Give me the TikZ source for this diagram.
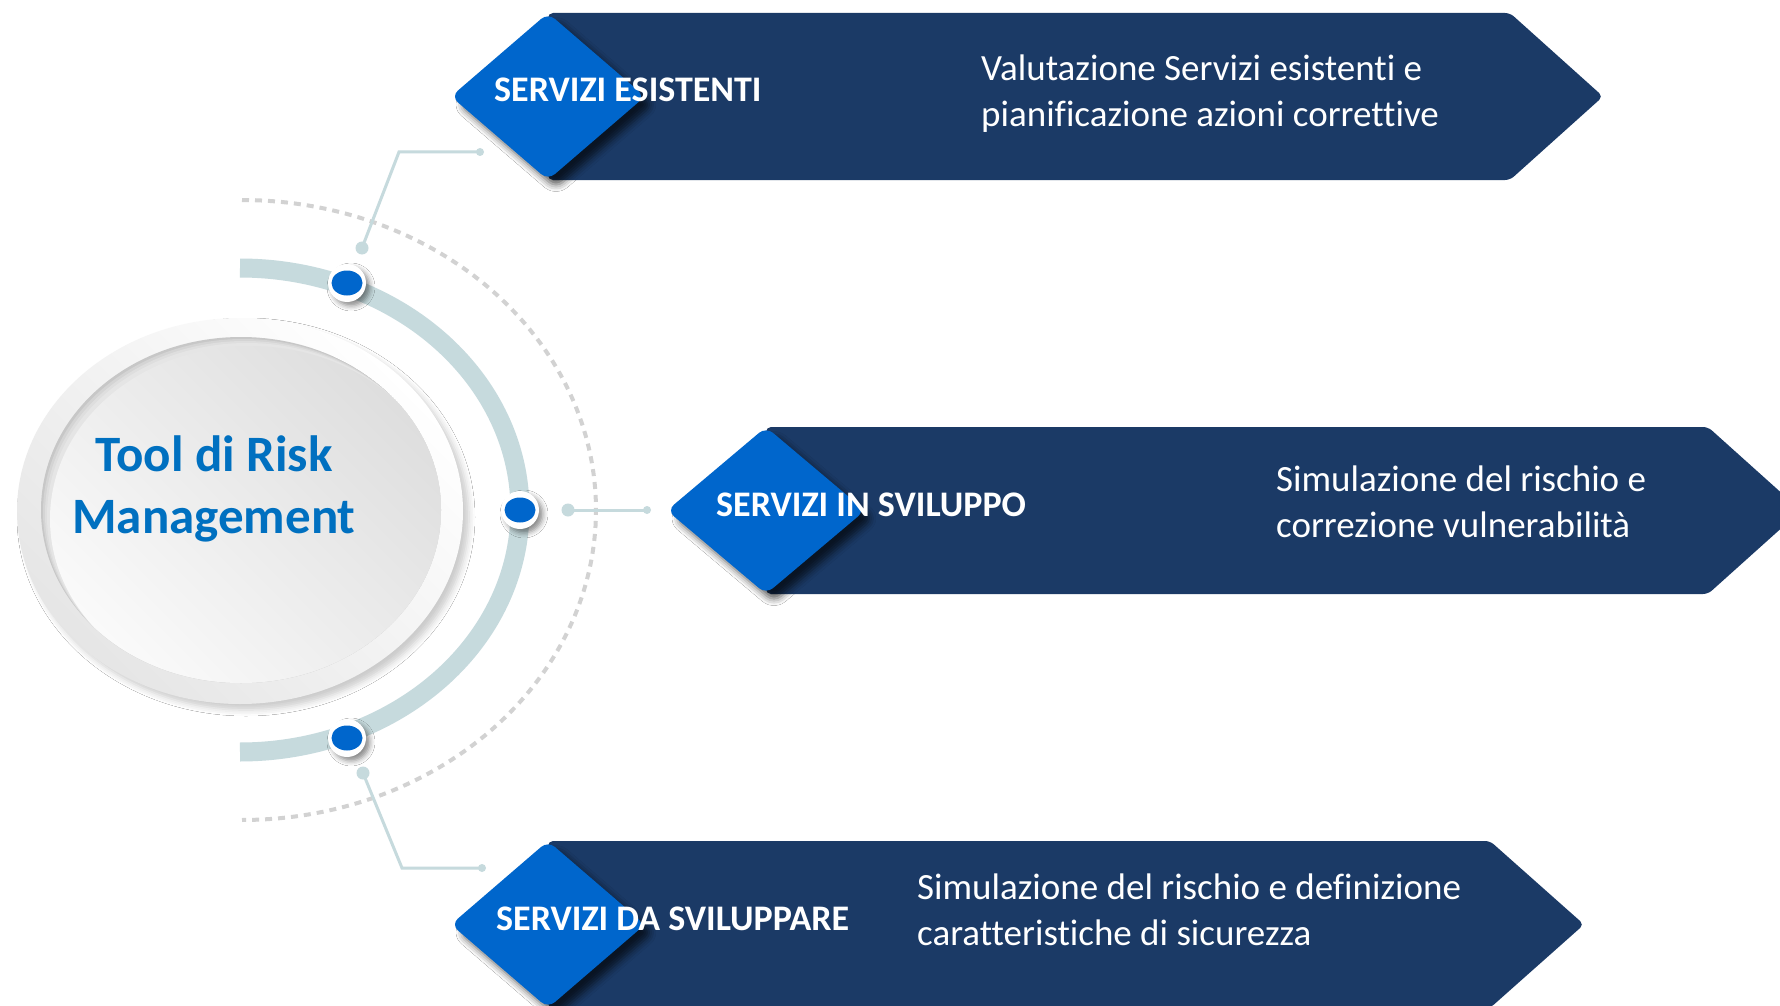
\documentclass[tikz,border=0pt]{standalone}
\usepackage{fontspec}
\setmainfont{Carlito}[Ligatures=NoCommon]
\usetikzlibrary{shadows.blur}
\definecolor{navy}{HTML}{1B3A66}
\definecolor{gemblue}{HTML}{0066CC}
\definecolor{titleblue}{HTML}{0070C0}
\definecolor{arcc}{HTML}{C6DADD}
\definecolor{dashc}{HTML}{D2D2D2}
\begin{document}
\begin{tikzpicture}[x=1pt,y=-1pt,
  conn/.style={arcc, line width=3pt},
  bandshape/.style={fill=navy, rounded corners=5pt},
  gem/.style={fill=gemblue, rounded corners=9pt,
    blur shadow={shadow xshift=8pt, shadow yshift=-8pt, shadow blur radius=7pt, shadow opacity=65}},
  dotring/.style={circle, fill=white, minimum size=38pt, inner sep=0pt,
    blur shadow={shadow xshift=4pt, shadow yshift=-4pt, shadow blur radius=5pt, shadow opacity=45}},
  lbl/.style={anchor=base west, text=white, font=\fontsize{36}{43}\selectfont\bfseries, inner sep=0pt},
  desc/.style={anchor=base west, align=left, text=white, font=\fontsize{37}{46}\selectfont, inner sep=0pt},
  title/.style={anchor=base, align=center, text=titleblue, font=\fontsize{51}{62}\selectfont\bfseries, inner sep=0pt}
]
\useasboundingbox (0,0) rectangle (1780,1006);
\clip (0,0) rectangle (1780,1006);
\fill[white] (0,0) rectangle (1780,1006);

% dashed outer arc
\draw[dashc, line width=4pt, dash pattern=on 7pt off 6pt]
  plot[domain=-90:90, samples=150] ({242+354*cos(\x)},{510+310*sin(\x)});

% connectors
\coordinate (c1s) at (362,248); \coordinate (c1m) at (399,152); \coordinate (c1e) at (480,152);
\coordinate (c2s) at (568,510); \coordinate (c2e) at (647,510);
\coordinate (c3s) at (363,773); \coordinate (c3m) at (402,868); \coordinate (c3e) at (482,868);
\draw[conn] (c1s) -- (c1m) -- (c1e);
\draw[conn] (c2s) -- (c2e);
\draw[conn] (c3s) -- (c3m) -- (c3e);
\foreach \p in {c1s,c2s,c3s} \fill[arcc] (\p) circle[radius=6.5pt];
\foreach \p in {c1e,c2e,c3e} \fill[arcc] (\p) circle[radius=4pt];

% thick arc band
\draw[arcc, line width=19pt]
  plot[domain=-90:90, samples=180] ({240+280*cos(\x)},{510+242*sin(\x)});

% dots on the arc
\node[dotring] (d1) at (347,283) {};
\node[dotring] (d2) at (520,510) {};
\node[dotring] (d3) at (347,738) {};
\foreach \p in {d1,d2,d3} \fill[gemblue] (\p) ellipse[x radius=15.5pt, y radius=12.5pt];

% central ellipse
\shade[top color=white, bottom color=black!10, shading angle=-45,
  blur shadow={shadow xshift=6pt, shadow yshift=-6pt, shadow blur radius=6pt, shadow opacity=20}]
  (240,511) ellipse[x radius=223pt, y radius=193pt];
\begin{scope}
  \clip (241,510) ellipse[x radius=200pt, y radius=173pt];
  \fill[black!22] (241,510) ellipse[x radius=200pt, y radius=173pt];
  \fill[black!17] (243,512) ellipse[x radius=200pt, y radius=173pt];
  \fill[black!13] (245,514) ellipse[x radius=200pt, y radius=173pt];
  \fill[black!10] (247,516) ellipse[x radius=200pt, y radius=173pt];
  \shade[top color=black!13, bottom color=black!2, shading angle=-45]
    (250,519) ellipse[x radius=200pt, y radius=173pt];
\end{scope}
\node[title] (tool) at (214,533) {Tool di Risk\\Management};

% row 1
\path[bandshape] (548,13) -- (1510,13) -- (1603,96.5) -- (1510,180) -- (548,180) -- cycle;
\path[gem] (451,96.5) -- (548,13) -- (645,96.5) -- (548,180) -- cycle;
\node[lbl] (l1) at (494,102) {SERVIZI ESISTENTI};
\node[desc] (t1) at (981,127) {Valutazione Servizi esistenti e\\pianificazione azioni correttive};

% row 2
\path[bandshape] (766,427) -- (1708,427) -- (1801,510.5) -- (1708,594) -- (766,594) -- cycle;
\path[gem] (667,510.5) -- (766,427) -- (865,510.5) -- (766,594) -- cycle;
\node[lbl] (l2) at (716,516) {SERVIZI IN SVILUPPO};
\node[desc] (t2) at (1276,537) {Simulazione del rischio e\\correzione vulnerabilità};

% row 3
\path[bandshape] (548,841) -- (1490,841) -- (1584,924.5) -- (1490,1008) -- (548,1008) -- cycle;
\path[gem] (451,924.5) -- (548,841) -- (645,924.5) -- (548,1008) -- cycle;
\node[lbl] (l3) at (496,930) {SERVIZI DA SVILUPPARE};
\node[desc] (t3) at (917,945) {Simulazione del rischio e definizione\\caratteristiche di sicurezza};
\end{tikzpicture}
\end{document}
